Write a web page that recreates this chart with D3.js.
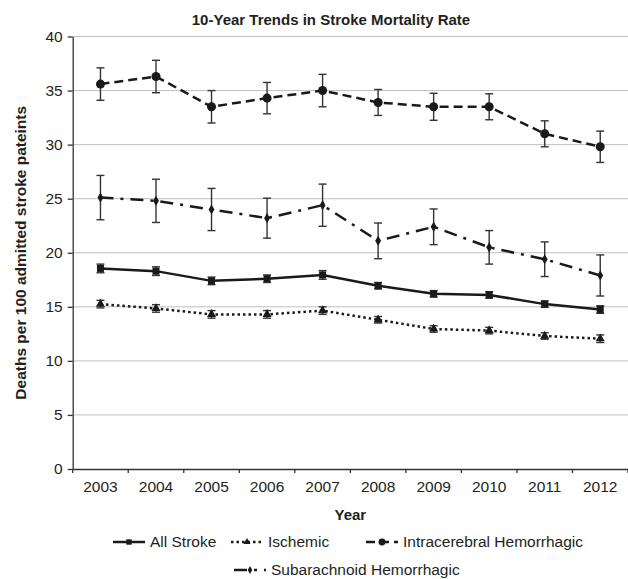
<!DOCTYPE html>
<html>
<head>
    <meta charset="utf-8">
    <title>10-Year Trends in Stroke Mortality Rate</title>
    <style type="text/css">
        body {
            margin: 0;
            background-color: #fff;
        }

        text {
            font-family: "Liberation Sans", Arial, sans-serif;
            fill: #231f20;
        }

        .grid line {
            stroke: #bfbfbf;
            stroke-width: 1;
        }

        .axis path,
        .axis line {
            stroke: #333;
            stroke-width: 1.3;
        }
    </style>
</head>
<body>

<script src="https://cdn.jsdelivr.net/npm/d3@7"></script>
<script type="text/javascript">
    // chart data
    var years = ["2003", "2004", "2005", "2006", "2007", "2008", "2009", "2010", "2011", "2012"];
    var yTicks = [0, 5, 10, 15, 20, 25, 30, 35, 40];

    var allStroke = [18.55, 18.3, 17.4, 17.6, 17.95, 16.95, 16.2, 16.1, 15.25, 14.75];
    var allStrokeErr = [0.4, 0.4, 0.35, 0.35, 0.4, 0.3, 0.3, 0.3, 0.3, 0.35];

    var ischemic = [15.25, 14.85, 14.3, 14.3, 14.65, 13.8, 12.95, 12.8, 12.3, 12.05];
    var ischemicErr = [0.35, 0.35, 0.35, 0.35, 0.35, 0.3, 0.3, 0.3, 0.3, 0.35];

    var intracerebral = [35.6, 36.3, 33.5, 34.3, 35.0, 33.9, 33.5, 33.5, 31.0, 29.8];
    var intracerebralErr = [1.5, 1.5, 1.5, 1.45, 1.5, 1.2, 1.25, 1.2, 1.2, 1.45];

    var subarachnoid = [25.1, 24.8, 24.0, 23.2, 24.4, 21.1, 22.4, 20.5, 19.4, 17.9];
    var subarachnoidErr = [2.05, 2.0, 1.95, 1.85, 1.95, 1.65, 1.65, 1.55, 1.6, 1.9];

    // one entry per series: values + how it is drawn
    var series = [
        {name: "Intracerebral Hemorrhagic", values: intracerebral, err: intracerebralErr,
            dash: "9,5", symbol: d3.symbolCircle, size: 64},
        {name: "Subarachnoid Hemorrhagic", values: subarachnoid, err: subarachnoidErr,
            dash: "13,7,3,7", symbol: d3.symbolDiamond, size: 30},
        {name: "All Stroke", values: allStroke, err: allStrokeErr,
            dash: null, symbol: d3.symbolSquare, size: 49},
        {name: "Ischemic", values: ischemic, err: ischemicErr,
            dash: "2.5,3", symbol: d3.symbolTriangle, size: 36}
    ];

    var W = 628, H = 579;
    var margin = {top: 36.5, right: 0, bottom: 110, left: 72.7};

    var svg = d3.select("body")
        .append("svg")
        .attr("width", W)
        .attr("height", H);

    var x = d3.scaleBand()
        .domain(years)
        .range([margin.left, W - margin.right]);

    var y = d3.scaleLinear()
        .domain([0, 40])
        .range([H - margin.bottom, margin.top]);

    // horizontal grid lines
    svg.append("g")
        .attr("class", "grid")
        .selectAll("line")
        .data(yTicks.slice(1))
        .enter()
        .append("line")
        .attr("x1", margin.left)
        .attr("x2", W - margin.right)
        .attr("y1", function (d) { return y(d); })
        .attr("y2", function (d) { return y(d); });

    // y axis
    svg.append("g")
        .attr("class", "axis")
        .attr("transform", "translate(" + margin.left + ",0)")
        .call(d3.axisLeft(y).tickValues(yTicks).tickSize(5).tickSizeOuter(0).tickPadding(5))
        .selectAll("text")
        .style("font-size", "15.5px");

    // x axis, labels centred in band, ticks on band edges
    var xAxis = svg.append("g")
        .attr("class", "axis")
        .attr("transform", "translate(0," + y(0) + ")")
        .call(d3.axisBottom(x).tickSize(0).tickPadding(12));
    xAxis.selectAll("text").style("font-size", "15.5px");

    xAxis.selectAll(".edge")
        .data(years.concat(["end"]))
        .enter()
        .append("line")
        .attr("class", "edge")
        .attr("x1", function (d) { return d == "end" ? x.range()[1] : x(d); })
        .attr("x2", function (d) { return d == "end" ? x.range()[1] : x(d); })
        .attr("y1", 0)
        .attr("y2", 4);

    var cx = function (d, i) { return x(years[i]) + x.bandwidth() / 2; };

    // series: error bars, line, markers
    series.forEach(function (s) {
        var g = svg.append("g");

        var bars = g.selectAll(".err")
            .data(s.values)
            .enter()
            .append("g")
            .attr("class", "err")
            .attr("stroke", "#333")
            .attr("stroke-width", 1.4);
        bars.append("line")
            .attr("x1", cx).attr("x2", cx)
            .attr("y1", function (d, i) { return y(d + s.err[i]); })
            .attr("y2", function (d, i) { return y(d - s.err[i]); });
        bars.append("line")
            .attr("x1", function (d, i) { return cx(d, i) - 4; })
            .attr("x2", function (d, i) { return cx(d, i) + 4; })
            .attr("y1", function (d, i) { return y(d + s.err[i]); })
            .attr("y2", function (d, i) { return y(d + s.err[i]); });
        bars.append("line")
            .attr("x1", function (d, i) { return cx(d, i) - 4; })
            .attr("x2", function (d, i) { return cx(d, i) + 4; })
            .attr("y1", function (d, i) { return y(d - s.err[i]); })
            .attr("y2", function (d, i) { return y(d - s.err[i]); });

        var line = d3.line()
            .x(cx)
            .y(function (d) { return y(d); });

        g.append("path")
            .datum(s.values)
            .attr("d", line)
            .attr("fill", "none")
            .attr("stroke", "#1a1a1a")
            .attr("stroke-width", 2.5)
            .attr("stroke-dasharray", s.dash);

        g.selectAll(".mark")
            .data(s.values)
            .enter()
            .append("path")
            .attr("class", "mark")
            .attr("d", d3.symbol().type(s.symbol).size(s.size))
            .attr("transform", function (d, i) {
                return "translate(" + cx(d, i) + "," + y(d) + ")";
            })
            .attr("fill", "#1a1a1a");
    });

    // title and axis titles
    svg.append("text")
        .attr("x", 331)
        .attr("y", 24.5)
        .attr("text-anchor", "middle")
        .style("font-size", "15px")
        .style("font-weight", "bold")
        .text("10-Year Trends in Stroke Mortality Rate");

    svg.append("text")
        .attr("x", (x.range()[0] + x.range()[1]) / 2)
        .attr("y", 520)
        .attr("text-anchor", "middle")
        .style("font-size", "15px")
        .style("font-weight", "bold")
        .text("Year");

    svg.append("text")
        .attr("transform", "rotate(-90)")
        .attr("x", -(y(0) + y(40)) / 2)
        .attr("y", 26)
        .attr("text-anchor", "middle")
        .style("font-size", "15.5px")
        .style("font-weight", "bold")
        .text("Deaths per 100 admitted stroke pateints");

    // legend (two rows)
    var legendPos = {
        "All Stroke": [129, 542],
        "Ischemic": [247, 542],
        "Intracerebral Hemorrhagic": [382, 542],
        "Subarachnoid Hemorrhagic": [250, 570]
    };

    var legend = svg.selectAll(".legend")
        .data(series)
        .enter()
        .append("g")
        .attr("class", "legend")
        .attr("transform", function (d) {
            return "translate(" + legendPos[d.name][0] + "," + legendPos[d.name][1] + ")";
        });

    legend.append("line")
        .attr("x1", -16)
        .attr("x2", 16)
        .attr("stroke", "#1a1a1a")
        .attr("stroke-width", 2.5)
        .attr("stroke-dasharray", function (d) { return d.dash; });

    legend.append("path")
        .attr("d", function (d) { return d3.symbol().type(d.symbol).size(d.size * 0.6)(); })
        .attr("fill", "#1a1a1a");

    legend.append("text")
        .attr("x", 21)
        .attr("dy", "0.35em")
        .style("font-size", "15.5px")
        .text(function (d) { return d.name; });

</script>
</body>
</html>
